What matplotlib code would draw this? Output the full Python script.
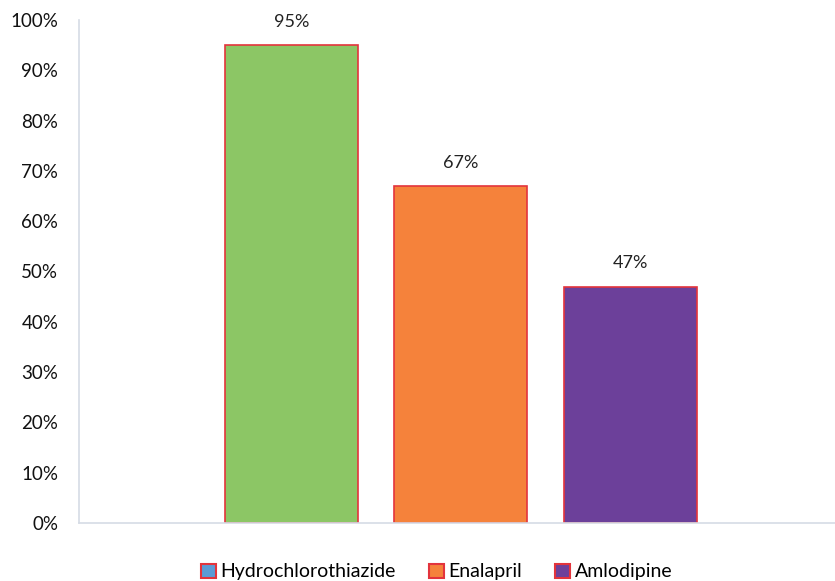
import matplotlib

matplotlib.use("Agg")
import matplotlib.pyplot as plt  # noqa: E402
from matplotlib.patches import Patch  # noqa: E402
from matplotlib.ticker import FuncFormatter, MultipleLocator  # noqa: E402

drugs = ["Hydrochlorothiazide", "Enalapril", "Amlodipine"]
shares = [95, 67, 47]
bar_colors = ["#8cc665", "#f5823b", "#6c409a"]
legend_colors = ["#5b9bd5", "#f5823b", "#6c409a"]
edge = "#e3343c"
axis_grey = "#d6dce5"

plt.rcParams["font.family"] = ["Lato", "DejaVu Sans"]

fig = plt.figure(figsize=(8.35, 5.81), dpi=100)
ax = fig.add_axes([79 / 835, 58 / 581, 756 / 835, 503 / 581])

x = list(range(len(drugs)))
ax.bar(x, shares, width=0.786, color=bar_colors, edgecolor=edge, linewidth=1.2)
for xi, v in zip(x, shares):
    ax.text(xi, v + 3.0, f"{v}%", ha="center", va="bottom", fontsize=13, color="#222222")

ax.set_xlim(-1.256, 3.211)
ax.set_ylim(0, 100)
ax.yaxis.set_major_locator(MultipleLocator(10))
ax.yaxis.set_major_formatter(FuncFormatter(lambda v, _: f"{v:.0f}%"))
ax.set_xticks([])
ax.tick_params(axis="y", length=0, pad=15, labelsize=13.5, labelcolor="#111111")

for side in ["top", "right"]:
    ax.spines[side].set_visible(False)
for side in ["left", "bottom"]:
    ax.spines[side].set_color(axis_grey)
    ax.spines[side].set_linewidth(1.2)

handles = [Patch(facecolor=c, edgecolor=edge, linewidth=1.5) for c in legend_colors]
fig.legend(handles, drugs, loc="center", bbox_to_anchor=(0.523, 1 - 572 / 581),
           ncol=3, frameon=False, fontsize=14, handlelength=0.75, handleheight=0.75,
           handletextpad=0.25, columnspacing=1.7)

fig.savefig("out.png", dpi=100)
